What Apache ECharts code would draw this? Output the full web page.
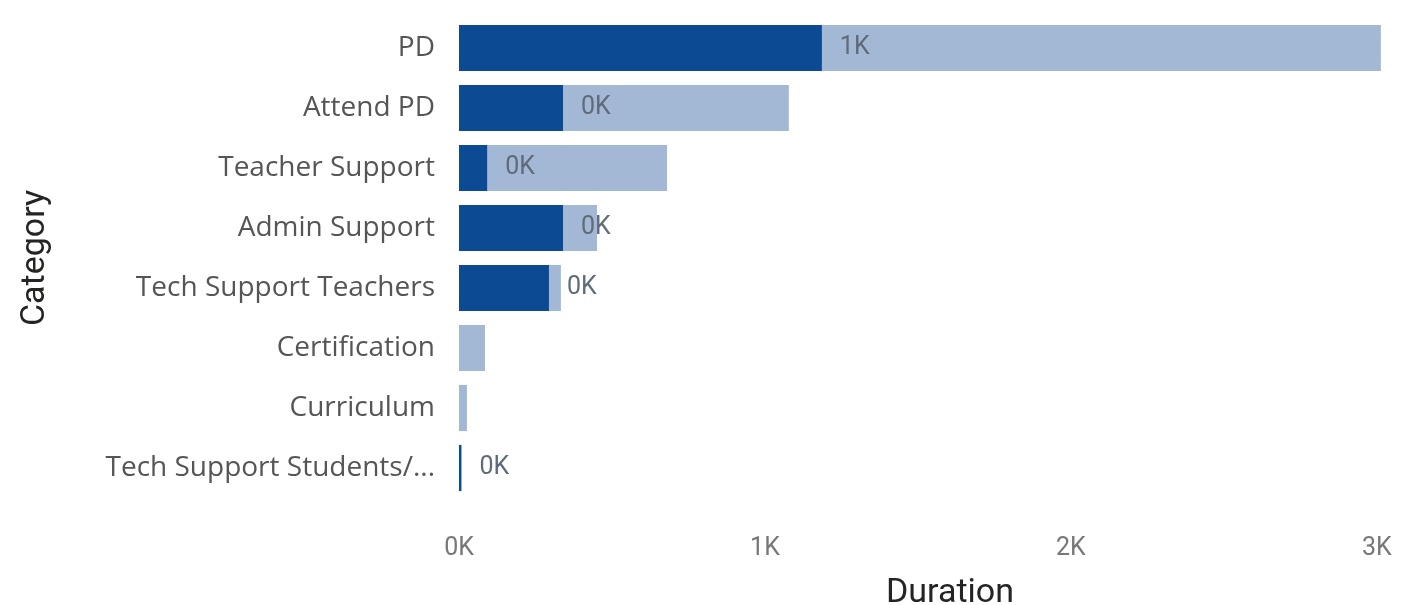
<!DOCTYPE html>
<html>
<head>
<meta charset="utf-8">
<script src="https://cdn.jsdelivr.net/npm/echarts@6/dist/echarts.min.js"></script>
<style>
  html, body { margin: 0; padding: 0; background: #fff; }
  #main { width: 1402px; height: 605px; }
</style>
</head>
<body>
<div id="main"></div>
<script>
const categories = ['PD', 'Attend PD', 'Teacher Support', 'Admin Support', 'Tech Support Teachers', 'Certification', 'Curriculum', 'Tech Support Students/...'];
const totalDuration = [3013, 1078, 680, 451, 333, 85, 26, 5];
const actualDuration = [1186, 340, 92, 340, 294, 0, 0, 8];
const tickLabels = ['0K', '1K', '2K', '3K'];

let myChart = echarts.init(document.getElementById('main'));

let option = {
  animation: false,
  grid: { left: 459, right: 19, top: 18, bottom: 107, outerBoundsMode: 'none' },
  xAxis: {
    type: 'value',
    min: 0,
    max: 3020,
    interval: 1000,
    name: 'Duration',
    nameLocation: 'middle',
    nameGap: 78,
    nameTextStyle: { fontFamily: 'Roboto', fontSize: 34, color: '#252423', padding: [0, 0, 0, 58] },
    axisLabel: {
      fontFamily: 'Roboto',
      fontSize: 25,
      color: '#777',
      margin: 38,
      showMaxLabel: false,
      formatter: (v) => tickLabels[Math.round(v / 1000)]
    },
    axisLine: { show: false },
    axisTick: { show: false },
    splitLine: { show: false }
  },
  yAxis: {
    type: 'category',
    inverse: true,
    data: categories,
    name: 'Category',
    nameLocation: 'middle',
    nameGap: 407,
    nameRotate: 90,
    nameTextStyle: { fontFamily: 'Roboto', fontSize: 34, color: '#252423' },
    axisLabel: { fontFamily: 'Open Sans', fontSize: 28, color: '#555', margin: 24 },
    axisLine: { show: false },
    axisTick: { show: false }
  },
  series: [
    {
      name: 'Total',
      type: 'bar',
      data: totalDuration,
      barCategoryGap: '23%',
      barGap: '-100%',
      itemStyle: { color: '#a3b8d4' },
      silent: true
    },
    {
      name: 'Actual',
      type: 'bar',
      data: actualDuration,
      barGap: '-100%',
      itemStyle: { color: '#0d4a94' },
      label: {
        show: true,
        position: 'right',
        distance: 18,
        fontFamily: 'Roboto',
        fontSize: 25,
        color: '#5f6b7a',
        formatter: (p) => p.value > 0 ? Math.round(p.value / 1000) + 'K' : ''
      }
    }
  ]
};

option && myChart.setOption(option);
</script>
</body>
</html>
